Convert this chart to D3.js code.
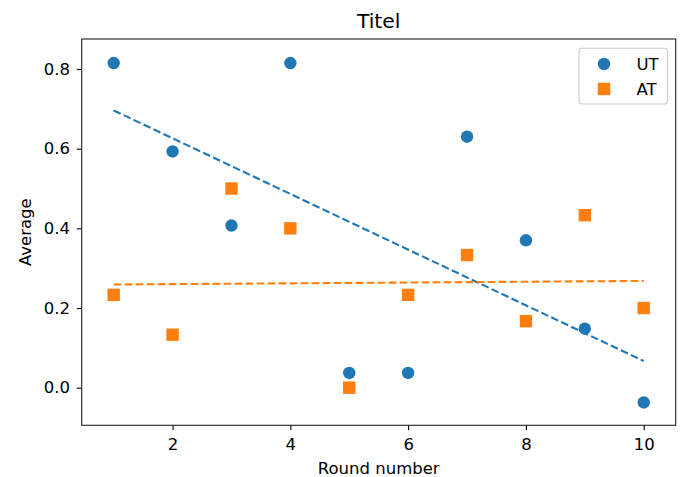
<!DOCTYPE html>
<html><head><meta charset="utf-8">
<script src="https://cdn.jsdelivr.net/npm/d3@7"></script>
<style>body{margin:0;background:#fff}text{font-family:"DejaVu Sans",sans-serif;fill:#000}</style>
</head><body><svg id="c" width="680" height="477"></svg>
<script>
const rounds = [1,2,3,4,5,6,7,8,9,10];
const utValues = [0.815,0.593,0.407,0.815,0.037,0.037,0.630,0.370,0.148,-0.037];
const atValues = [0.233,0.133,0.500,0.400,0.000,0.233,0.333,0.167,0.433,0.200];
const trendX = [1,10];
const utTrend = [0.696,0.067];
const atTrend = [0.259,0.268];
const xTicks = [2,4,6,8,10];
const yTicks = [0.0,0.2,0.4,0.6,0.8];
const seriesNames = ["UT","AT"];
const colors = ["#1f77b4","#ff7f0e"];

const svg = d3.select("#c");
const L=81.7, R=675.7, T=39, B=425.3;
const FS=16.5;
const x = d3.scaleLinear().domain([0.457,10.543]).range([L,R]);
const y = d3.scaleLinear().domain([-0.0944,0.8753]).range([B,T]);

const xAxis = svg.append("g").attr("transform",`translate(0,${B})`)
  .call(d3.axisBottom(x).tickValues(xTicks).tickFormat(d3.format("d")).tickSize(4.9).tickPadding(8));
const yAxis = svg.append("g").attr("transform",`translate(${L},0)`)
  .call(d3.axisLeft(y).tickValues(yTicks).tickFormat(d3.format(".1f")).tickSize(4.9).tickPadding(6.8));
[xAxis,yAxis].forEach(a=>{
  a.select(".domain").remove();
  a.selectAll("line").attr("stroke","#000").attr("stroke-width",1.1);
  a.selectAll("text").attr("font-size",FS).attr("font-family","DejaVu Sans").attr("fill","#000");
});

const line = d3.line().x(d=>x(d[0])).y(d=>y(d[1]));
svg.append("path").attr("d",line(trendX.map((v,i)=>[v,utTrend[i]])))
  .attr("fill","none").attr("stroke",colors[0]).attr("stroke-width",2.1).attr("stroke-dasharray","7.7,3.3");
svg.append("path").attr("d",line(trendX.map((v,i)=>[v,atTrend[i]])))
  .attr("fill","none").attr("stroke",colors[1]).attr("stroke-width",2.1).attr("stroke-dasharray","7.7,3.3");

svg.append("g").selectAll("circle").data(rounds).join("circle")
  .attr("cx",(d)=>x(d)).attr("cy",(d,i)=>y(utValues[i])).attr("r",6.2).attr("fill",colors[0]);
const s=12.4;
svg.append("g").selectAll("rect").data(rounds).join("rect")
  .attr("x",d=>x(d)-s/2).attr("y",(d,i)=>y(atValues[i])-s/2).attr("width",s).attr("height",s).attr("fill",colors[1]);

svg.append("rect").attr("x",L).attr("y",T).attr("width",R-L).attr("height",B-T)
  .attr("fill","none").attr("stroke","#222").attr("stroke-width",1.1);

svg.append("text").attr("x",(L+R)/2).attr("y",28).attr("text-anchor","middle").attr("font-size",20.3).text("Titel");
svg.append("text").attr("x",(L+R)/2).attr("y",474).attr("text-anchor","middle").attr("font-size",FS).text("Round number");
svg.append("text").attr("transform",`translate(31,${(T+B)/2}) rotate(-90)`).attr("text-anchor","middle").attr("font-size",FS).text("Average");

// legend
const lg = svg.append("g");
lg.append("rect").attr("x",579).attr("y",48.3).attr("width",88.5).attr("height",55.7).attr("rx",3)
  .attr("fill","#fff").attr("fill-opacity",0.8).attr("stroke","#ccc").attr("stroke-width",1.1);
lg.append("circle").attr("cx",604).attr("cy",64).attr("r",6.2).attr("fill",colors[0]);
lg.append("rect").attr("x",604-s/2).attr("y",89-s/2).attr("width",s).attr("height",s).attr("fill",colors[1]);
seriesNames.forEach((n,i)=>{
  lg.append("text").attr("x",636.5).attr("y",64+25*i).attr("dy","0.36em").attr("font-size",FS).text(n);
});
</script></body></html>
